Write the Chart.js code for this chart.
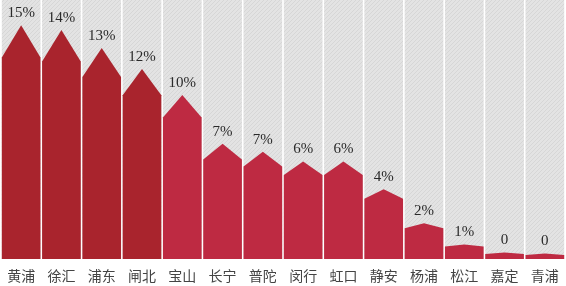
<!DOCTYPE html>
<html>
<head>
<meta charset="utf-8">
<script src="https://cdn.jsdelivr.net/npm/chart.js@4"></script>
<style>
  body { margin: 0; background: #fff; }
  #wrap { width: 566px; height: 286px; }
</style>
</head>
<body>
<div id="wrap"><canvas id="chart"></canvas></div>
<script>
// 各区数据
const districts = ['黄浦', '徐汇', '浦东', '闸北', '宝山', '长宁', '普陀', '闵行', '虹口', '静安', '杨浦', '松江', '嘉定', '青浦'];
const shares = [14.4, 14.1, 13.0, 11.7, 10.1, 7.1, 6.6, 6.0, 6.0, 4.3, 2.2, 0.9, 0.36, 0.29];
const shareLabels = ['15%', '14%', '13%', '12%', '10%', '7%', '7%', '6%', '6%', '4%', '2%', '1%', '0', '0'];
const yMax = 18.5;

const darkRed = '#a9242d';
const lightRed = '#be2a42';
const barColors = districts.map((d, i) => i < 4 ? darkRed : lightRed);

// 背景斜纹
function makeHatch() {
    const c = document.createElement('canvas');
    c.width = 4; c.height = 4;
    const g = c.getContext('2d');
    g.fillStyle = '#e3e3e3';
    g.fillRect(0, 0, 4, 4);
    g.fillStyle = '#d6d6d6';
    for (let i = 0; i < 4; i++) g.fillRect(i, 3 - i, 1, 1);
    return g.createPattern(c, 'repeat');
}

// 列背景
const columnBg = {
    id: 'columnBg',
    beforeDatasetsDraw(chart) {
        const ctx = chart.ctx;
        const area = chart.chartArea;
        const meta = chart.getDatasetMeta(0);
        ctx.save();
        ctx.fillStyle = makeHatch();
        meta.data.forEach(bar => {
            ctx.fillRect(bar.x - bar.width / 2, area.top, bar.width, bar.base - area.top);
        });
        ctx.restore();
    }
};

// 房子形状的柱子
const houseBars = {
    id: 'houseBars',
    beforeDatasetDraw(chart, args) {
        const ctx = chart.ctx;
        ctx.save();
        args.meta.data.forEach((bar, i) => {
            const half = bar.width / 2;
            const h = bar.base - bar.y;
            const peak = Math.max(h * 0.16, 1.5);
            ctx.fillStyle = barColors[i];
            ctx.beginPath();
            ctx.moveTo(bar.x - half, bar.base);
            ctx.lineTo(bar.x - half, bar.y);
            ctx.lineTo(bar.x, bar.y - peak);
            ctx.lineTo(bar.x + half, bar.y);
            ctx.lineTo(bar.x + half, bar.base);
            ctx.closePath();
            ctx.fill();

            ctx.fillStyle = '#2a2a2a';
            ctx.font = '15px "Liberation Serif"';
            ctx.textAlign = 'center';
            ctx.textBaseline = 'middle';
            ctx.fillText(shareLabels[i], bar.x, bar.y - peak - 12);
        });
        ctx.restore();
        return false;
    }
};

new Chart(document.getElementById('chart'), {
    type: 'bar',
    data: {
        labels: districts,
        datasets: [{
            data: shares,
            backgroundColor: barColors,
            categoryPercentage: 1,
            barPercentage: 0.96
        }]
    },
    options: {
        responsive: true,
        maintainAspectRatio: false,
        animation: false,
        layout: { padding: { left: 1, right: 1, top: 0, bottom: 0 } },
        plugins: {
            legend: { display: false },
            tooltip: { enabled: false }
        },
        scales: {
            x: {
                grid: { display: false },
                border: { display: false },
                afterFit: (axis) => { axis.height = 27; },
                ticks: {
                    color: '#444',
                    padding: 0,
                    font: { family: '"Noto Sans CJK SC"', size: 14 }
                }
            },
            y: {
                display: false,
                min: 0,
                max: yMax
            }
        }
    },
    plugins: [columnBg, houseBars]
});
</script>
</body>
</html>
